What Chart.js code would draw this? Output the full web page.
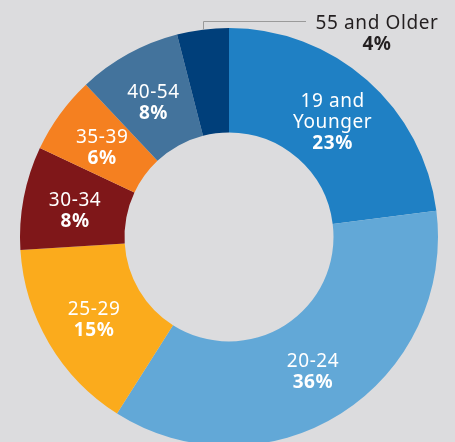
<!DOCTYPE html>
<html>
<head>
<meta charset="utf-8">
<script src="https://cdn.jsdelivr.net/npm/chart.js@4"></script>
<style>
  html, body { margin: 0; padding: 0; background: #dcdcde; overflow: hidden; }
  #wrap { position: relative; width: 455px; height: 442px; overflow: hidden; }
  canvas { position: absolute; left: 0; top: 0; }
</style>
</head>
<body>
<div id="wrap"><canvas id="chart" width="458" height="474"></canvas></div>
<script>
// Age groups, clockwise from 12 o'clock
const ageGroups = [['19 and', 'Younger'], ['20-24'], ['25-29'], ['30-34'], ['35-39'], ['40-54'], ['55 and Older']];
const shares = [23, 36, 15, 8, 6, 8, 4];
const sliceColors = ['#1f80c4', '#62a8d7', '#fbab1c', '#7f1719', '#f58020', '#43739c', '#003f7a'];

const FONT = '"Noto Sans", "Open Sans", sans-serif';
const SIZE = 19;
const LINE_H = 21;
const NUDGE = 3;

// Draws the labels inside each slice, and the one small slice outside with a leader line
const sliceLabels = {
    id: 'sliceLabels',
    afterDatasetsDraw(chart) {
        const ctx = chart.ctx;
        const arcs = chart.getDatasetMeta(0).data;
        ctx.save();
        ctx.textAlign = 'center';
        ctx.textBaseline = 'middle';
        ctx.letterSpacing = '0.6px';
        arcs.forEach((arc, i) => {
            const lines = ageGroups[i];
            const pct = shares[i] + '%';
            if (i === arcs.length - 1) {
                // outside label
                const mid = (arc.startAngle + arc.endAngle) / 2;
                const x0 = arc.x + Math.cos(mid) * arc.outerRadius;
                const y0 = arc.y + Math.sin(mid) * arc.outerRadius;
                const lineY = 21;
                ctx.strokeStyle = '#9a9a9a';
                ctx.lineWidth = 1;
                ctx.beginPath();
                ctx.moveTo(Math.round(x0) + 0.5, y0);
                ctx.lineTo(Math.round(x0) + 0.5, lineY + 0.5);
                ctx.lineTo(306, lineY + 0.5);
                ctx.stroke();
                ctx.fillStyle = '#231f20';
                ctx.font = SIZE + 'px ' + FONT;
                ctx.fillText(lines[0], 377, 21 + NUDGE);
                ctx.font = 'bold ' + SIZE + 'px ' + FONT;
                ctx.fillText(pct, 377, 42 + NUDGE);
                return;
            }
            const p = arc.tooltipPosition();
            const all = lines.length + 1;
            const top = p.y - (all - 1) * LINE_H / 2 + NUDGE;
            ctx.fillStyle = '#ffffff';
            ctx.font = SIZE + 'px ' + FONT;
            lines.forEach((t, j) => ctx.fillText(t, p.x, top + j * LINE_H));
            ctx.font = 'bold ' + SIZE + 'px ' + FONT;
            ctx.fillText(pct, p.x, top + lines.length * LINE_H);
        });
        ctx.restore();
    }
};

new Chart(document.getElementById('chart'), {
    type: 'doughnut',
    data: {
        labels: ageGroups.map(l => l.join(' ')),
        datasets: [{
            data: shares,
            backgroundColor: sliceColors,
            borderWidth: 0
        }]
    },
    options: {
        responsive: false,
        animation: false,
        cutout: '50%',
        layout: { padding: { left: 20, right: 20, top: 28, bottom: 28 } },
        plugins: {
            legend: { display: false },
            tooltip: { enabled: false }
        }
    },
    plugins: [sliceLabels]
});
</script>
</body>
</html>
